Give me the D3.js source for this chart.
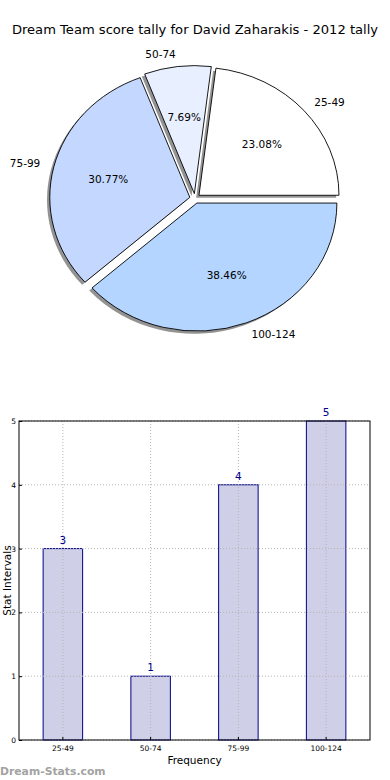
<!DOCTYPE html>
<html lang="en">
<head>
    <meta charset="UTF-8">
    <script src="https://d3js.org/d3.v7.min.js"></script>
    <title>Dream Team score tally</title>
    <style>
        body {
            margin: 0;
            overflow: hidden;
            background: white;
        }

        text {
            font-family: "DejaVu Sans", sans-serif;
        }
    </style>
</head>
<body>
    <script>
        const width = 390,
              height = 780;

        // data
        const title = "Dream Team score tally for David Zaharakis - 2012 tally";
        const categories = ["25-49", "50-74", "75-99", "100-124"];
        const counts = [3, 1, 4, 5];
        const pieColors = ["#ffffff", "#e8f0ff", "#c4d8ff", "#b3d5ff"];
        const yTickValues = [0, 1, 2, 3, 4, 5];

        const svg = d3.select('body')
            .append('svg')
            .attr('width', width)
            .attr('height', height);

        svg.append('text')
            .attr('x', 195)
            .attr('y', 34)
            .attr('text-anchor', 'middle')
            .style('font-size', '13.1px')
            .text(title);

        // ---------- pie (elliptical, like matplotlib without equal axes) ----------
        const cx = 195, cy = 198.5, rx = 140, ry = 128;
        const explode = 0.038;
        const total = d3.sum(counts);

        // matplotlib starts at 3 o'clock and goes counter-clockwise
        const pie = d3.pie()
            .sort(null)
            .startAngle(Math.PI / 2)
            .endAngle(Math.PI / 2 - 2 * Math.PI);

        const arcs = pie(counts);
        const unitArc = d3.arc().innerRadius(0).outerRadius(1);

        const pieG = svg.append('g');

        arcs.forEach((a, i) => {
            const mid = (a.startAngle + a.endAngle) / 2;
            const ox = cx + explode * rx * Math.sin(mid);
            const oy = cy - explode * ry * Math.cos(mid);

            // shadow
            pieG.append('path')
                .attr('d', unitArc(a))
                .attr('transform', `translate(${ox - 2.8},${oy + 2.6}) scale(${rx},${ry})`)
                .attr('fill', '#939393');
        });

        arcs.forEach((a, i) => {
            const mid = (a.startAngle + a.endAngle) / 2;
            const ox = cx + explode * rx * Math.sin(mid);
            const oy = cy - explode * ry * Math.cos(mid);

            pieG.append('path')
                .attr('d', unitArc(a))
                .attr('transform', `translate(${ox},${oy}) scale(${rx},${ry})`)
                .attr('fill', pieColors[i])
                .attr('stroke', 'black')
                .attr('stroke-width', 0.9)
                .attr('vector-effect', 'non-scaling-stroke');

            const ux = Math.sin(mid), uy = -Math.cos(mid);

            pieG.append('text')
                .attr('x', ox + 1.1 * rx * ux)
                .attr('y', oy + 1.1 * ry * uy)
                .attr('dy', '0.35em')
                .attr('text-anchor', ux > 0 ? 'start' : 'end')
                .style('font-size', '10.5px')
                .text(categories[i]);

            pieG.append('text')
                .attr('x', ox + 0.6 * rx * ux)
                .attr('y', oy + 0.6 * ry * uy)
                .attr('dy', '0.35em')
                .attr('text-anchor', 'middle')
                .style('font-size', '10.5px')
                .text((counts[i] / total * 100).toFixed(2) + '%');
        });

        // ---------- bar chart ----------
        const margin = { left: 19, right: 370, top: 421, bottom: 740 };

        const x = d3.scaleBand()
            .domain(categories)
            .range([margin.left, margin.right])
            .padding(0);

        const y = d3.scaleLinear()
            .domain([0, 5])
            .range([margin.bottom, margin.top]);

        const barW = x.bandwidth() * 0.45;
        const barG = svg.append('g');

        // bars
        barG.selectAll('rect.bar')
            .data(counts)
            .enter()
            .append('rect')
            .attr('class', 'bar')
            .attr('x', (d, i) => x(categories[i]) + (x.bandwidth() - barW) / 2)
            .attr('y', d => y(d))
            .attr('width', barW)
            .attr('height', d => y(0) - y(d))
            .attr('fill', '#cfcfe7')
            .attr('stroke', '#00008b')
            .attr('stroke-width', 1);

        // dotted grid, drawn above the bars like in the original
        barG.selectAll('.vgrid')
            .data(categories)
            .enter()
            .append('line')
            .attr('x1', d => x(d) + x.bandwidth() / 2)
            .attr('x2', d => x(d) + x.bandwidth() / 2)
            .attr('y1', margin.top)
            .attr('y2', margin.bottom)
            .attr('stroke', '#b4b4b4')
            .attr('stroke-width', 1)
            .attr('stroke-dasharray', '1,2');

        barG.selectAll('.hgrid')
            .data(yTickValues)
            .enter()
            .append('line')
            .attr('x1', margin.left)
            .attr('x2', margin.right)
            .attr('y1', d => y(d))
            .attr('y2', d => y(d))
            .attr('stroke', '#b4b4b4')
            .attr('stroke-width', 1)
            .attr('stroke-dasharray', '1,2');

        // value labels
        barG.selectAll('text.val')
            .data(counts)
            .enter()
            .append('text')
            .attr('class', 'val')
            .attr('x', (d, i) => x(categories[i]) + x.bandwidth() / 2)
            .attr('y', d => y(d) - 5)
            .attr('text-anchor', 'middle')
            .attr('fill', '#00008b')
            .style('font-size', '10.5px')
            .text(d => d);

        // frame
        barG.append('rect')
            .attr('x', margin.left)
            .attr('y', margin.top)
            .attr('width', margin.right - margin.left)
            .attr('height', margin.bottom - margin.top)
            .attr('fill', 'none')
            .attr('stroke', 'black')
            .attr('stroke-width', 1);

        const yAxis = d3.axisLeft(y)
            .tickValues(yTickValues)
            .tickFormat(d3.format('d'))
            .tickSize(-3)
            .tickPadding(3);
        const yAxisG = svg.append('g')
            .attr('transform', `translate(${margin.left},0)`)
            .call(yAxis);
        yAxisG.select('.domain').remove();
        yAxisG.selectAll('text').style('font-size', '7.5px').attr('font-family', 'DejaVu Sans');

        const xAxis = d3.axisBottom(x)
            .tickSize(-3)
            .tickPadding(6);
        const xAxisG = svg.append('g')
            .attr('transform', `translate(0,${margin.bottom})`)
            .call(xAxis);
        xAxisG.select('.domain').remove();
        xAxisG.selectAll('text').style('font-size', '7.5px').attr('font-family', 'DejaVu Sans');

        svg.append('text')
            .attr('x', (margin.left + margin.right) / 2)
            .attr('y', 764)
            .attr('text-anchor', 'middle')
            .style('font-size', '10.5px')
            .text('Frequency');

        svg.append('text')
            .attr('transform', `translate(10.5,${(margin.top + margin.bottom) / 2}) rotate(-90)`)
            .attr('text-anchor', 'middle')
            .style('font-size', '10.5px')
            .text('Stat Intervals');

        svg.append('text')
            .attr('x', 0)
            .attr('y', 775)
            .attr('fill', '#a3a3a3')
            .style('font-size', '10.8px')
            .style('font-weight', 'bold')
            .text('Dream-Stats.com');
    </script>
</body>
</html>
